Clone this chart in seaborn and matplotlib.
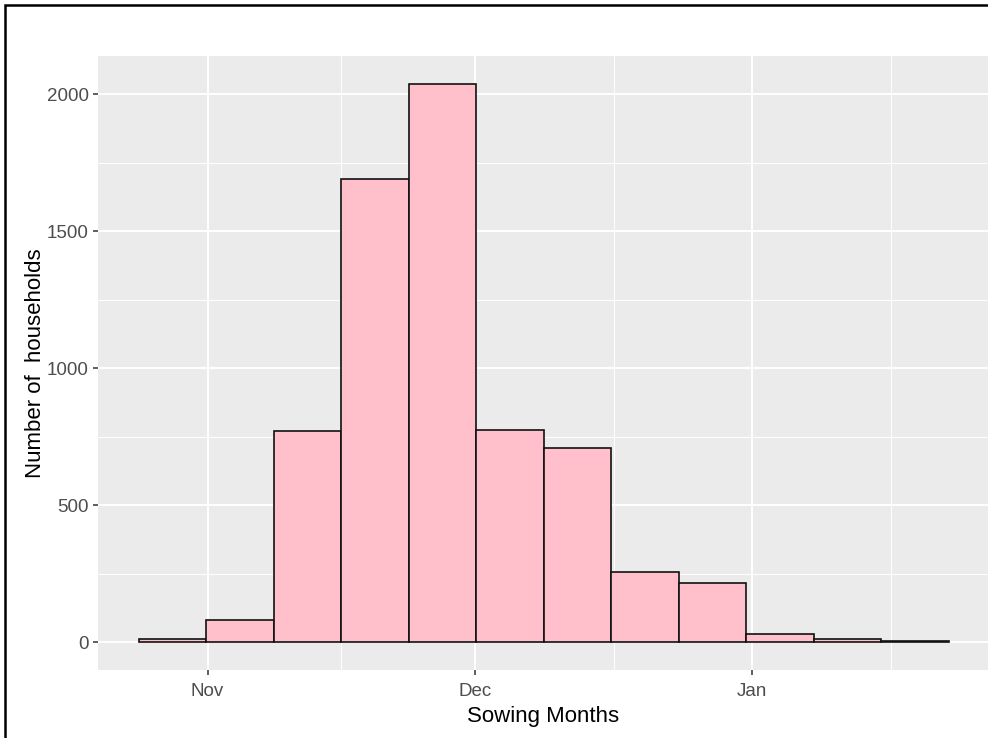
import numpy as np
import pandas as pd
import matplotlib
matplotlib.use("Agg")
import matplotlib.pyplot as plt
from matplotlib.patches import Rectangle
from matplotlib.ticker import FixedLocator
import seaborn as sns

# Data: histogram bins (center, in days since 1 Nov) and household counts
bin_center_days = [-3.95, 3.6, 11.2, 18.7, 26.3, 33.8, 41.4, 49.0, 56.5, 64.1, 71.6, 79.2]
households = [12, 80, 770, 1690, 2038, 775, 708, 256, 217, 30, 11, 3]
month_labels = ["Nov", "Dec", "Jan"]
month_days = [0, 30, 61]
y_ticks = [0, 500, 1000, 1500, 2000]

sns.set_theme(style="darkgrid")
plt.rcParams["font.family"] = ["Liberation Sans", "DejaVu Sans"]

df = pd.DataFrame({"day": bin_center_days, "n": households})
centers = np.array(bin_center_days)
width = float(np.mean(np.diff(centers)))
lo = float(centers[0] - width / 2)
hi = float(centers[-1] + width / 2)

fig = plt.figure(figsize=(9.88, 7.38), dpi=100)
ax = fig.add_axes([98 / 988, 1 - 670 / 738, (989 - 98) / 988, (670 - 56) / 738])
ax.set_facecolor("#EBEBEB")

sns.histplot(data=df, x="day", weights="n", binwidth=width, binrange=(lo, hi), ax=ax,
             color="#FFC0CB", edgecolor="#111111", linewidth=1.2, alpha=1.0)

pad = 0.05 * (hi - lo)
ax.set_xlim(lo - pad, hi + pad)
ymax = max(households)
ax.set_ylim(-0.05 * ymax, 1.05 * ymax)

ax.xaxis.set_major_locator(FixedLocator(month_days))
ax.set_xticklabels(month_labels)
minor_x = [(month_days[i] + month_days[i + 1]) / 2 for i in range(len(month_days) - 1)] + [76.5]
ax.xaxis.set_minor_locator(FixedLocator(minor_x))
ax.yaxis.set_major_locator(FixedLocator(y_ticks))
ax.yaxis.set_minor_locator(FixedLocator([250, 750, 1250, 1750]))

ax.grid(which="major", color="white", linewidth=1.4)
ax.grid(which="minor", color="white", linewidth=0.7)
ax.set_axisbelow(True)
for s in ax.spines.values():
    s.set_visible(False)

ax.tick_params(axis="both", which="major", length=3.5, width=1.1, color="#333333",
               labelsize=13.5, labelcolor="#4D4D4D", bottom=True, left=True)
ax.tick_params(axis="x", which="major", pad=6)
ax.tick_params(axis="y", which="major", pad=3)
ax.tick_params(axis="both", which="minor", length=0)

ax.set_xlabel("Sowing Months", fontsize=16, color="black", labelpad=4)
ax.set_ylabel("Number of  households", fontsize=16, color="black", labelpad=1)

# outer frame
fig.patches.append(Rectangle((4.5 / 988, -0.05), 1.2, 1.05 - 5.5 / 738, transform=fig.transFigure,
                             fill=False, edgecolor="black", linewidth=1.8, zorder=10))

fig.savefig("out.png", dpi=100)
